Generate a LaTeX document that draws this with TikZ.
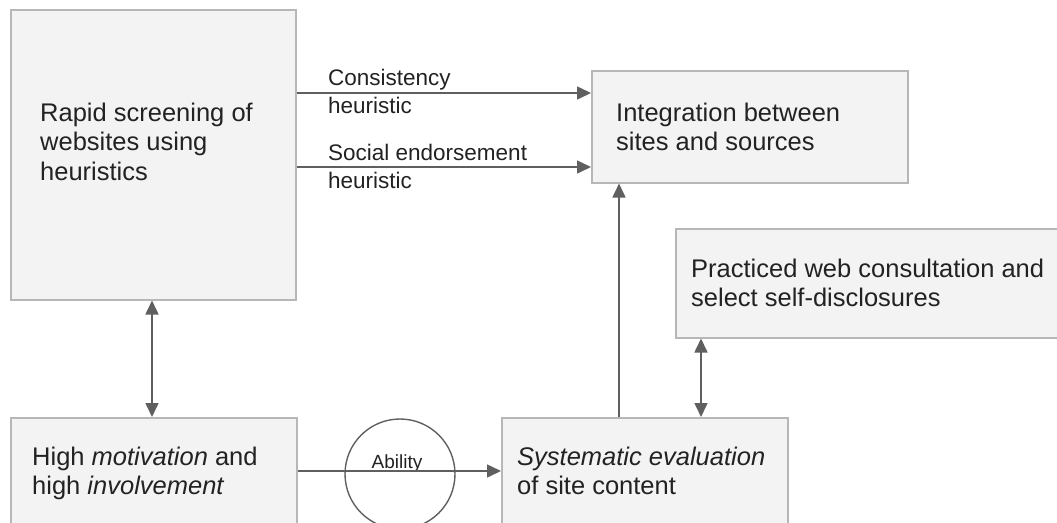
\documentclass[tikz,border=0pt]{standalone}
\usepackage{fontspec}
\setmainfont{Liberation Sans}
\usetikzlibrary{arrows.meta}
\definecolor{boxfill}{HTML}{F3F3F3}
\definecolor{boxline}{HTML}{B7B7B7}
\definecolor{arrowc}{HTML}{5F5F5F}
\definecolor{txtc}{HTML}{222222}
\begin{document}
\begin{tikzpicture}[x=1pt,y=-1pt,
  box/.style={draw=boxline, fill=boxfill, line width=1.5pt, anchor=north west, inner sep=0pt, minimum width=#1},
  maintext/.style={anchor=north west, inner sep=0pt, align=left, text=txtc, font=\fontsize{25.5}{29.5}\selectfont},
  lbltext/.style={anchor=north west, inner sep=0pt, align=left, text=txtc, font=\fontsize{22.5}{28}\selectfont},
  conn/.style={draw=arrowc, line width=1.5pt, -{Triangle[length=14pt,width=13pt]}},
  dconn/.style={draw=arrowc, line width=1.6pt, {Triangle[length=14pt,width=13pt]}-{Triangle[length=14pt,width=13pt]}}
]
\useasboundingbox (0,0) rectangle (1057,522);
\clip (0,0) rectangle (1057,522);

% boxes
\node[box=285pt, minimum height=290pt] (A) at (10,9) {};
\node[box=316pt, minimum height=112pt] (B) at (591,70) {};
\node[box=400pt, minimum height=109pt] (C) at (675,228) {};
\node[box=286pt, minimum height=125pt] (D) at (10,417) {};
\node[box=286pt, minimum height=125pt] (E) at (501,417) {};
\node[circle, draw=arrowc, line width=1.4pt, minimum size=110pt, inner sep=0pt] (ab) at (400,474) {};

% box texts
\node[maintext] (tA) at (40,100.35) {\strut Rapid screening of\\websites using\\heuristics};
\node[maintext] (tB) at (616,100.35) {\strut Integration between\\sites and sources};
\node[maintext] (tC) at (691,256.35) {\strut Practiced web consultation and\\select self-disclosures};
\node[maintext] (tD) at (32,444.35) {\strut High \textit{motivation} and\\high \textit{involvement}};
\node[maintext] (tE) at (517,444.35) {\strut \textit{Systematic evaluation}\\of site content};

% connector labels
\node[lbltext] (l1) at (328,65.4) {\strut Consistency\\heuristic};
\node[lbltext] (l2) at (328,140.4) {\strut Social endorsement\\heuristic};
\node[anchor=base, inner sep=0pt, text=txtc, font=\fontsize{19}{22}\selectfont] (abt) at (397,468) {Ability};

% connectors
\draw[conn] ([yshift=-84pt]A.north east) -- ([yshift=-23pt]B.north west);
\draw[conn] ([yshift=-158pt]A.north east) -- ([yshift=-97pt]B.north west);
\draw[dconn] ([xshift=142pt]A.south west) -- ([xshift=142pt]D.north west);
\draw[conn] ([yshift=-54pt]D.north east) -- ([yshift=-54pt]E.north west);
\draw[conn] ([xshift=118pt]E.north west) -- ([xshift=28pt]B.south west);
\draw[dconn] ([xshift=26pt]C.south west) -- ([xshift=200pt]E.north west);
\end{tikzpicture}
\end{document}
